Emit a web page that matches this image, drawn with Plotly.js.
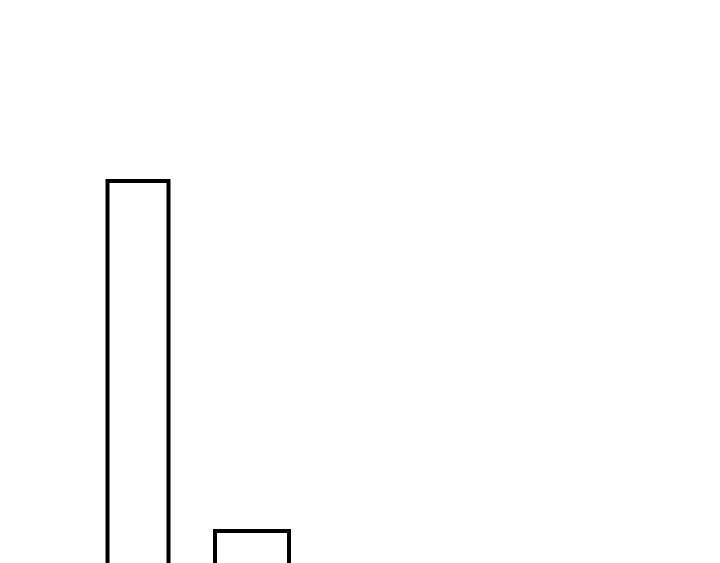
<!DOCTYPE html>
<html>
<head>
<meta charset="utf-8">
<script src="https://cdn.plot.ly/plotly-3.0.1.min.js"></script>
<style>html,body{margin:0;padding:0;background:#fff;overflow:hidden;}#chart{width:720px;height:563px;}</style>
</head>
<body>
<div id="chart"></div>
<script>
const categories = ["A", "B"];
const values = [519, 169];

const trace = {
  type: "bar",
  x: categories,
  y: values,
  width: [0.535, 0.649],
  marker: { color: "#ffffff", line: { color: "#000000", width: 4 } },
  hoverinfo: "none"
};

const layout = {
  width: 720,
  height: 563,
  margin: { l: 0, r: 0, t: 0, b: 0, pad: 0 },
  paper_bgcolor: "#ffffff",
  plot_bgcolor: "#ffffff",
  showlegend: false,
  xaxis: { type: "category", range: [-1.2105, 5.105], visible: false, showgrid: false, zeroline: false },
  yaxis: { range: [137, 700], visible: false, showgrid: false, zeroline: false }
};

Plotly.newPlot("chart", [trace], layout, { staticPlot: true, displayModeBar: false });
</script>
</body>
</html>
